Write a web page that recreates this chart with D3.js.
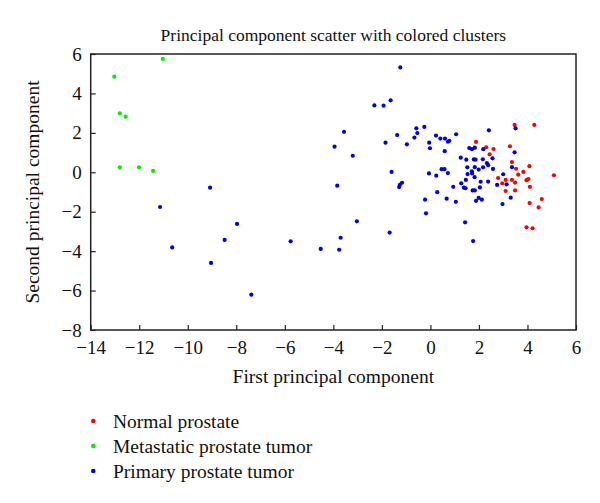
<!DOCTYPE html>
<html><head><meta charset="utf-8">
<script src="https://cdn.jsdelivr.net/npm/d3@7"></script>
<style>body{margin:0;background:#fff;} svg{display:block;}</style>
</head><body>
<svg id="c" width="600" height="503"></svg>
<script>
const seriesNames = ["Normal prostate", "Metastatic prostate tumor", "Primary prostate tumor"];
const seriesColors = ["#ff0000", "#00ee00", "#0000dd"];
const xTicks = [-14,-12,-10,-8,-6,-4,-2,0,2,4,6];
const yTicks = [-8,-6,-4,-2,0,2,4,6];

const normal = [[3.47,2.40],[4.28,2.40],[1.88,1.54],[2.30,1.27],[2.60,1.18],[2.44,0.91],[3.28,1.32],[3.36,0.52],[3.53,0.18],[4.08,0.31],[3.83,0.02],[3.62,-0.12],[2.79,-0.29],[2.96,-0.56],[3.10,-0.39],[3.36,-0.39],[3.49,-0.52],[3.10,-0.95],[3.49,-0.92],[3.96,-0.40],[4.04,-0.34],[4.10,-0.74],[5.09,-0.15],[4.59,-1.36],[4.09,-1.56],[4.46,-1.78],[3.96,-2.79],[4.21,-2.84]];
const metastatic = [[-13.03,4.85],[-11.03,5.75],[-12.8,2.99],[-12.56,2.82],[-12.8,0.25],[-12.01,0.25],[-11.43,0.07]];
const primary = [[-11.14,-1.76],[-10.64,-3.81],[-9.08,-0.78],[-9.04,-4.60],[-8.48,-3.43],[-7.97,-2.62],[-7.38,-6.21],[-5.76,-3.50],[-4.52,-3.89],[-3.76,-3.93],[-3.70,-3.32],[-3.84,-0.68],[-3.95,1.30],[-3.56,2.05],[-3.20,0.84],[-3.03,-2.49],[-2.31,3.39],[-1.93,3.38],[-1.64,3.65],[-1.24,5.32],[-1.85,1.50],[-1.37,1.89],[-0.97,1.42],[-1.60,0.02],[-1.29,-0.75],[-1.26,-0.64],[-1.17,-0.53],[-1.68,-3.06],
[-0.66,1.76],[-0.58,2.23],[-0.54,1.99],[-0.25,2.30],[-0.05,1.50],[-0.02,1.22],[0.23,1.86],[0.41,1.71],[0.60,1.71],[0.72,1.55],[0.78,1.60],[0.59,1.07],[1.06,1.93],[2.41,2.13],[3.51,2.23],[3.47,1.01],
[1.60,1.23],[1.71,1.17],[1.83,1.25],[2.18,1.17],
[1.25,0.74],[1.48,0.64],[1.79,0.65],[1.86,0.64],[2.16,0.66],[2.56,0.71],[2.33,0.46],[2.38,0.36],
[0.46,0.16],[0.58,0.16],[0.72,-0.04],[-0.06,-0.06],[0.24,-0.17],
[1.52,0.25],[1.71,0.05],[1.72,-0.06],[1.83,0.26],[1.99,0.14],[2.17,0.25],[2.58,0.17],[3.36,0.26],[1.53,-0.09],[3.00,-0.10],
[1.82,-0.25],[1.46,-0.39],[1.27,-0.56],[2.07,-0.48],[2.38,-0.47],[2.75,-0.64],[3.14,-0.61],
[0.94,-0.74],[1.38,-0.78],[1.45,-0.81],[1.74,-0.92],[1.83,-0.92],[2.04,-0.77],
[0.28,-1.01],[0.67,-1.34],[-0.22,-1.39],[1.05,-1.50],[1.88,-1.45],[1.99,-1.30],[2.12,-1.39],[2.97,-1.61],[3.31,-1.29],
[-0.18,-2.08],[1.43,-2.54],[1.76,-3.49]];
const series = [normal, metastatic, primary];

const svg = d3.select("#c");
const font = "'Liberation Serif', 'DejaVu Serif', serif";
const L = 90.7, R = 576, T = 54, B = 330;
const x = d3.scaleLinear().domain([-14, 6]).range([L, R]);
const y = d3.scaleLinear().domain([-8, 6]).range([B, T]);
const fmt = d => (d < 0 ? "\u2212" + Math.abs(d) : String(d));

// title
svg.append("text").attr("x", (L + R) / 2).attr("y", 41).attr("text-anchor", "middle")
  .attr("font-family", font).attr("font-size", 17.5).attr("fill", "#111")
  .text("Principal component scatter with colored clusters");

// axes
const xAxis = d3.axisBottom(x).tickValues(xTicks).tickSize(-5).tickPadding(11).tickFormat(fmt);
const gx = svg.append("g").attr("transform", `translate(0,${B})`).call(xAxis);
const yAxis = d3.axisLeft(y).tickValues(yTicks).tickSize(-5).tickPadding(9).tickFormat(fmt);
const gy = svg.append("g").attr("transform", `translate(${L},0)`).call(yAxis);
[gx, gy].forEach(g => {
  g.select(".domain").remove();
  g.selectAll(".tick line").attr("stroke", "#222").attr("stroke-width", 1.2);
  g.selectAll(".tick text").attr("font-family", font).attr("font-size", 19).attr("fill", "#111");
});
// frame
svg.append("rect").attr("x", L).attr("y", T).attr("width", R - L).attr("height", B - T)
  .attr("fill", "none").attr("stroke", "#222").attr("stroke-width", 1.5);

// axis titles
svg.append("text").attr("x", (L + R) / 2).attr("y", 383).attr("text-anchor", "middle")
  .attr("font-family", font).attr("font-size", 19.5).attr("fill", "#111").text("First principal component");
svg.append("text").attr("transform", `translate(39,${(T + B) / 2}) rotate(-90)`).attr("text-anchor", "middle")
  .attr("font-family", font).attr("font-size", 19.5).attr("fill", "#111").text("Second principal component");

// points
series.forEach((pts, i) => {
  svg.append("g").selectAll("circle").data(pts).join("circle")
    .attr("cx", d => x(d[0])).attr("cy", d => y(d[1])).attr("r", 2.1)
    .attr("fill", seriesColors[i]);
});

// legend
const lg = svg.append("g");
seriesNames.forEach((n, i) => {
  const yy = 421 + i * 25;
  lg.append("circle").attr("cx", 93.3).attr("cy", yy).attr("r", 2.3).attr("fill", seriesColors[i]);
  lg.append("text").attr("x", 113).attr("y", yy + 7).attr("font-family", font).attr("font-size", 19.5)
    .attr("fill", "#111").text(n);
});
</script>
</body></html>
